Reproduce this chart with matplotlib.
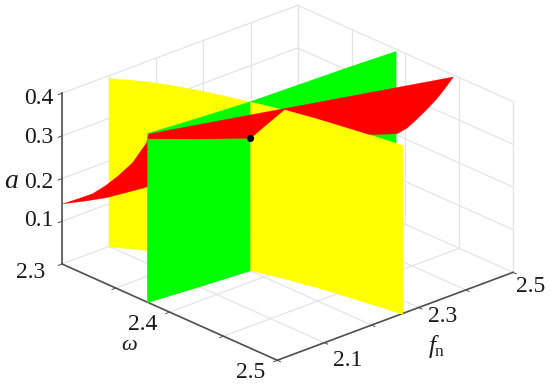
import matplotlib
matplotlib.use("Agg")
import matplotlib.pyplot as plt
from mpl_toolkits.mplot3d import proj3d
from mpl_toolkits.mplot3d.art3d import Poly3DCollection

plt.rcParams["font.family"] = ["Liberation Serif", "DejaVu Serif"]
plt.rcParams["mathtext.fontset"] = "custom"
plt.rcParams["mathtext.rm"] = "Liberation Serif"
plt.rcParams["mathtext.it"] = "Liberation Serif:italic"

W, H = 550, 386

OMEGA_TICKS = [2.30, 2.35, 2.40, 2.45, 2.50]
FN_TICKS = [2.0, 2.1, 2.2, 2.3, 2.4, 2.5]
A_TICKS = [0.1, 0.2, 0.3, 0.4]
A_MIN = 0.0

# yellow wall, omega against fn
yellow_omega = [2.30, 2.31, 2.32, 2.334, 2.35, 2.368, 2.3864, 2.398, 2.41, 2.434, 2.46, 2.48, 2.50]
yellow_fn = [2.0985, 2.1175, 2.1345, 2.1525, 2.17, 2.1865, 2.2015, 2.211, 2.22, 2.235, 2.2475, 2.2565, 2.265]
yellow_top = 0.395
# part of the yellow wall that sits in front of the red sheet
yellow_front_cut = [0.309, 0.352, 0.3955, 0.395, 0.395, 0.395, 0.395]

# green wall
green_omega = [2.379, 2.383, 2.3864, 2.389, 2.391]
green_fn = [2.0, 2.1, 2.2015, 2.41, 2.5]
green_top = 0.396
green_front_cut = [0.383, 0.346, 0.309]

# red sheet outline, going round from the left tip
red_left_omega = [2.300, 2.3149, 2.328, 2.340, 2.352, 2.3651, 2.3781, 2.380]
red_left_a = [0.142, 0.171, 0.1974, 0.2297, 0.2667, 0.3118, 0.3731, 0.396]
red_right_omega = [2.4442, 2.4368, 2.4294, 2.42, 2.4106, 2.4014, 2.392]
red_right_a = [0.396, 0.362, 0.33, 0.2938, 0.26, 0.2285, 0.204]
red_low_omega = [2.3864, 2.316, 2.3086, 2.305]
red_low_fn = [2.2015, 2.139, 2.0745, 2.043]
red_low_a = [0.309, 0.141, 0.1357, 0.1375]

# bifurcation point
point = (2.3864, 2.2015, 0.309)

z_labels = [("0.4", 39, 99), ("0.3", 39, 138), ("0.2", 39, 182), ("0.1", 39, 221)]
omega_labels = [("2.3", 31, 273), ("2.4", 143, 324), ("2.5", 251, 373)]
fn_labels = [("2.1", 348, 361), ("2.3", 443, 317), ("2.5", 531, 286)]

GRID = "#e4e4e4"
AXIS = "#505050"
TEXT = "#1a1a1a"


def wall(omega, fn, bottom, top):
    low = [(w, f, bottom) for w, f in zip(omega, fn)]
    high = [(w, f, t) for w, f, t in zip(omega, fn, top)]
    return low + high[::-1]


def add_poly(ax, verts, color, zorder):
    poly = Poly3DCollection([verts], facecolors=color, edgecolors=color, linewidths=0.2, zorder=zorder)
    ax.add_collection3d(poly)


def box_px(ax, w, f, a):
    x, y, _ = proj3d.proj_transform(w, f, a, ax.get_proj())
    return ax.transData.transform((x, y))


def fit_axes(ax, fig):
    # move the box so that its corners land where the reference has them
    left_target, right_target = (62.0, H - 264.0), (513.0, H - 272.0)
    for _ in range(3):
        ax.apply_aspect()
        p0 = box_px(ax, 2.3, 2.0, A_MIN)
        p1 = box_px(ax, 2.3 + 0.2, 2.5, A_MIN)
        scale = (right_target[0] - left_target[0]) / (p1[0] - p0[0])
        pos = ax.get_position()
        l, b, w, h = pos.x0 * W, pos.y0 * H, pos.width * W, pos.height * H
        l2 = left_target[0] - (p0[0] - l) * scale
        b2 = left_target[1] - (p0[1] - b) * scale
        ax.set_position([l2 / W, b2 / H, w * scale / W, h * scale / H])


fig = plt.figure(figsize=(W / 100, H / 100), dpi=100)
ax = fig.add_axes([0, 0, 1, 1], projection="3d", proj_type="ortho", computed_zorder=False)
ax.set_axis_off()

# grid on the floor and the two back walls
for f in FN_TICKS:
    ax.plot([2.3, 2.5], [f, f], [A_MIN, A_MIN], color=GRID, lw=0.9, zorder=1)
    ax.plot([2.3, 2.3], [f, f], [A_MIN, 0.4], color=GRID, lw=0.9, zorder=1)
for w in OMEGA_TICKS:
    ax.plot([w, w], [2.0, 2.5], [A_MIN, A_MIN], color=GRID, lw=0.9, zorder=1)
    ax.plot([w, w], [2.5, 2.5], [A_MIN, 0.4], color=GRID, lw=0.9, zorder=1)
for a in A_TICKS:
    ax.plot([2.3, 2.3], [2.0, 2.5], [a, a], color=GRID, lw=0.9, zorder=1)
    ax.plot([2.3, 2.5], [2.5, 2.5], [a, a], color=GRID, lw=0.9, zorder=1)

# axis lines and ticks
ax.plot([2.3, 2.3], [2.0, 2.0], [A_MIN, 0.4], color=AXIS, lw=1.2, zorder=2)
ax.plot([2.3, 2.5], [2.0, 2.0], [A_MIN, A_MIN], color=AXIS, lw=1.2, zorder=2)
ax.plot([2.5, 2.5], [2.0, 2.5], [A_MIN, A_MIN], color=AXIS, lw=1.2, zorder=2)
for a in A_TICKS:
    ax.plot([2.3, 2.3], [2.0, 1.992], [a, a], color=AXIS, lw=0.7, zorder=2)
for w in OMEGA_TICKS:
    ax.plot([w, w], [2.0, 1.992], [A_MIN, A_MIN], color=AXIS, lw=0.7, zorder=2)
for f in FN_TICKS:
    ax.plot([2.5, 2.503], [f, f], [A_MIN, A_MIN], color=AXIS, lw=0.7, zorder=2)

# pieces are split along the intersection lines and painted back to front
n_back = 7
add_poly(ax, wall(yellow_omega[:n_back], yellow_fn[:n_back], A_MIN, [yellow_top] * n_back), "#ffff00", 3)
add_poly(ax, wall(green_omega[2:], green_fn[2:], A_MIN, [green_top] * 3), "#00ff00", 4)
add_poly(ax, wall(green_omega[:3], green_fn[:3], A_MIN, [green_top] * 3), "#00ff00", 5)
add_poly(ax, wall(yellow_omega[n_back - 1:], yellow_fn[n_back - 1:], A_MIN, [yellow_top] * 7), "#ffff00", 6)

red = [(w, 2.0, a) for w, a in zip(red_left_omega, red_left_a)]
red += [(w, 2.5, a) for w, a in zip(red_right_omega, red_right_a)]
red += list(zip(red_low_omega, red_low_fn, red_low_a))
add_poly(ax, red, "#ff0000", 7)

add_poly(ax, wall(green_omega[:3], green_fn[:3], A_MIN, green_front_cut), "#00ff00", 8)
add_poly(ax, wall(yellow_omega[n_back - 1:], yellow_fn[n_back - 1:], A_MIN, yellow_front_cut), "#ffff00", 9)

ax.plot([point[0]], [point[1]], [point[2]], "o", color="black", ms=5.2, mew=0, zorder=10)

ax.set_xlim(2.3, 2.5)
ax.set_ylim(2.0, 2.5)
ax.set_zlim(A_MIN, 0.4)
ax.set_box_aspect((1, 1, 0.586))
ax.view_init(elev=24.1, azim=-42.4)
fit_axes(ax, fig)

for labels in (z_labels, omega_labels, fn_labels):
    for text, x, y in labels:
        fig.text(x / W, 1 - y / H, text, fontsize=17, ha="center", va="center", color=TEXT)
fig.text(11 / W, 1 - 182 / H, "a", fontsize=20, style="italic", ha="center", va="center", color=TEXT)
fig.text(129 / W, 1 - 345 / H, "\u03c9", fontsize=16, style="italic", ha="center", va="center", color=TEXT)
fig.text(437 / W, 1 - 346 / H, r"$f_{\mathrm{n}}$", fontsize=18, ha="center", va="center", color=TEXT)

fig.savefig("out.png", dpi=100)
